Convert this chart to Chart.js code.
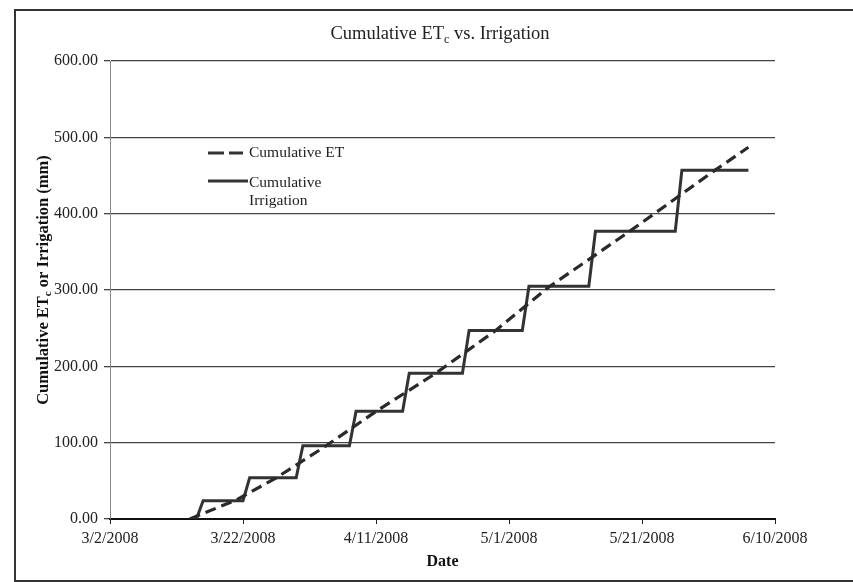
<!DOCTYPE html>
<html>
<head>
<meta charset="utf-8">
<script src="https://cdn.jsdelivr.net/npm/chart.js@4.4.0/dist/chart.umd.min.js"></script>
<style>
  html, body { margin: 0; padding: 0; background: #fff; }
  #wrap { position: relative; width: 853px; height: 582px; overflow: hidden; }
  #frame {
    position: absolute; left: 14px; top: 9px; width: 850px; height: 569px;
    border-left: 2px solid #333; border-top: 2px solid #333; border-bottom: 2px solid #333;
    pointer-events: none;
  }
  canvas { position: absolute; left: 0; top: 0; }
</style>
</head>
<body>
<div id="wrap">
  <canvas id="chart" width="853" height="582"></canvas>
  <div id="frame"></div>
</div>
<script>
const etDates = ["3/14/2008", "3/21/2008", "3/27/2008", "4/3/2008", "4/11/2008", "4/20/2008",
  "4/29/2008", "5/7/2008", "5/19/2008", "6/1/2008", "6/6/2008"];
const etValues = [0, 25, 54, 93, 141, 191, 247, 304, 376, 457, 487];

const irrDates = ["3/15/2008", "3/16/2008", "3/22/2008", "3/23/2008", "3/30/2008", "3/31/2008",
  "4/7/2008", "4/8/2008", "4/15/2008", "4/16/2008", "4/24/2008", "4/25/2008", "5/3/2008",
  "5/4/2008", "5/13/2008", "5/14/2008", "5/26/2008", "5/27/2008", "6/6/2008"];
const irrValues = [0, 24, 24, 54, 54, 96, 96, 141, 141, 191, 191, 247, 247, 305, 305, 377, 377, 457, 457];

const xTickLabels = ["3/2/2008", "3/22/2008", "4/11/2008", "5/1/2008", "5/21/2008", "6/10/2008"];

const serif = "'Liberation Serif', 'Times New Roman', serif";
const ink = "#222";

// days since 3/2/2008
function dayOf(s) {
  const [m, d, y] = s.split("/").map(Number);
  return (Date.UTC(y, m - 1, d) - Date.UTC(2008, 2, 2)) / 86400000;
}

function toPoints(dates, values) {
  return dates.map((d, i) => ({ x: dayOf(d), y: values[i] }));
}

// draws text parts [text, size, dy] centred on cx
function drawRich(ctx, parts, cx, cy, weight) {
  let total = 0;
  parts.forEach((p) => {
    ctx.font = `${weight} ${p[1]}px ${serif}`;
    total += ctx.measureText(p[0]).width;
  });
  let x = cx - total / 2;
  ctx.textAlign = "left";
  ctx.textBaseline = "alphabetic";
  parts.forEach((p) => {
    ctx.font = `${weight} ${p[1]}px ${serif}`;
    ctx.fillText(p[0], x, cy + (p[2] || 0));
    x += ctx.measureText(p[0]).width;
  });
}

const annotate = {
  id: "annotate",
  afterDraw(chart) {
    const ctx = chart.ctx;
    const area = chart.chartArea;
    ctx.save();
    ctx.fillStyle = ink;

    // title
    drawRich(ctx, [["Cumulative ET", 18.5], ["c", 12, 4], [" vs. Irrigation", 18.5]], 440, 39, "normal");

    // x axis title
    ctx.fillStyle = "#111";
    drawRich(ctx, [["Date", 16]], (area.left + area.right) / 2, 566, "bold");

    // y axis title
    ctx.save();
    ctx.translate(48, (area.top + area.bottom) / 2 - 10);
    ctx.rotate(-Math.PI / 2);
    drawRich(ctx, [["Cumulative ET", 16.5], ["c", 11, 3], [" or Irrigation (mm)", 16.5]], 0, 0, "bold");
    ctx.restore();

    // legend inside plot
    ctx.fillStyle = ink;
    const lx = area.left + 98;
    ctx.strokeStyle = "#333";
    ctx.lineWidth = 3;
    ctx.setLineDash([16, 5]);
    ctx.beginPath();
    ctx.moveTo(lx, 153);
    ctx.lineTo(lx + 35, 153);
    ctx.stroke();
    ctx.setLineDash([]);
    ctx.beginPath();
    ctx.moveTo(lx, 181);
    ctx.lineTo(lx + 40, 181);
    ctx.stroke();

    ctx.font = `15.5px ${serif}`;
    ctx.textAlign = "left";
    ctx.textBaseline = "middle";
    ctx.fillText("Cumulative ET", lx + 41, 153);
    ctx.fillText("Cumulative", lx + 41, 183);
    ctx.fillText("Irrigation", lx + 41, 201);
    ctx.restore();
  },
};

new Chart(document.getElementById("chart").getContext("2d"), {
  type: "line",
  data: {
    datasets: [
      {
        label: "Cumulative ET",
        data: toPoints(etDates, etValues),
        borderColor: "#2a2a2a",
        borderWidth: 3.2,
        borderDash: [11, 6],
        pointRadius: 0,
        tension: 0,
        fill: false,
      },
      {
        label: "Cumulative Irrigation",
        data: toPoints(irrDates, irrValues),
        borderColor: "#333",
        borderWidth: 3,
        pointRadius: 0,
        tension: 0,
        fill: false,
      },
    ],
  },
  options: {
    responsive: false,
    animation: false,
    layout: { padding: { left: 15, right: 78, top: 61, bottom: 8 } },
    plugins: {
      legend: { display: false },
      title: { display: false },
      tooltip: { enabled: false },
    },
    scales: {
      x: {
        type: "linear",
        min: 0,
        max: 100,
        ticks: {
          stepSize: 20,
          maxRotation: 0,
          padding: 5,
          color: ink,
          font: { family: serif, size: 16 },
          callback: (value, index) => xTickLabels[index],
        },
        grid: { drawOnChartArea: false, drawTicks: true, tickLength: 5, color: "#222" },
        border: { color: "#111", width: 2 },
        afterFit: (scale) => {
          scale.height = 55;
        },
      },
      y: {
        min: 0,
        max: 600,
        ticks: {
          stepSize: 100,
          padding: 6,
          color: ink,
          font: { family: serif, size: 16 },
          callback: (value) => value.toFixed(2),
        },
        grid: { color: "#444", lineWidth: 1.3, tickLength: 6 },
        border: { color: "#888", width: 1 },
        afterFit: (scale) => {
          scale.width = 95;
        },
      },
    },
  },
  plugins: [annotate],
});
</script>
</body>
</html>
